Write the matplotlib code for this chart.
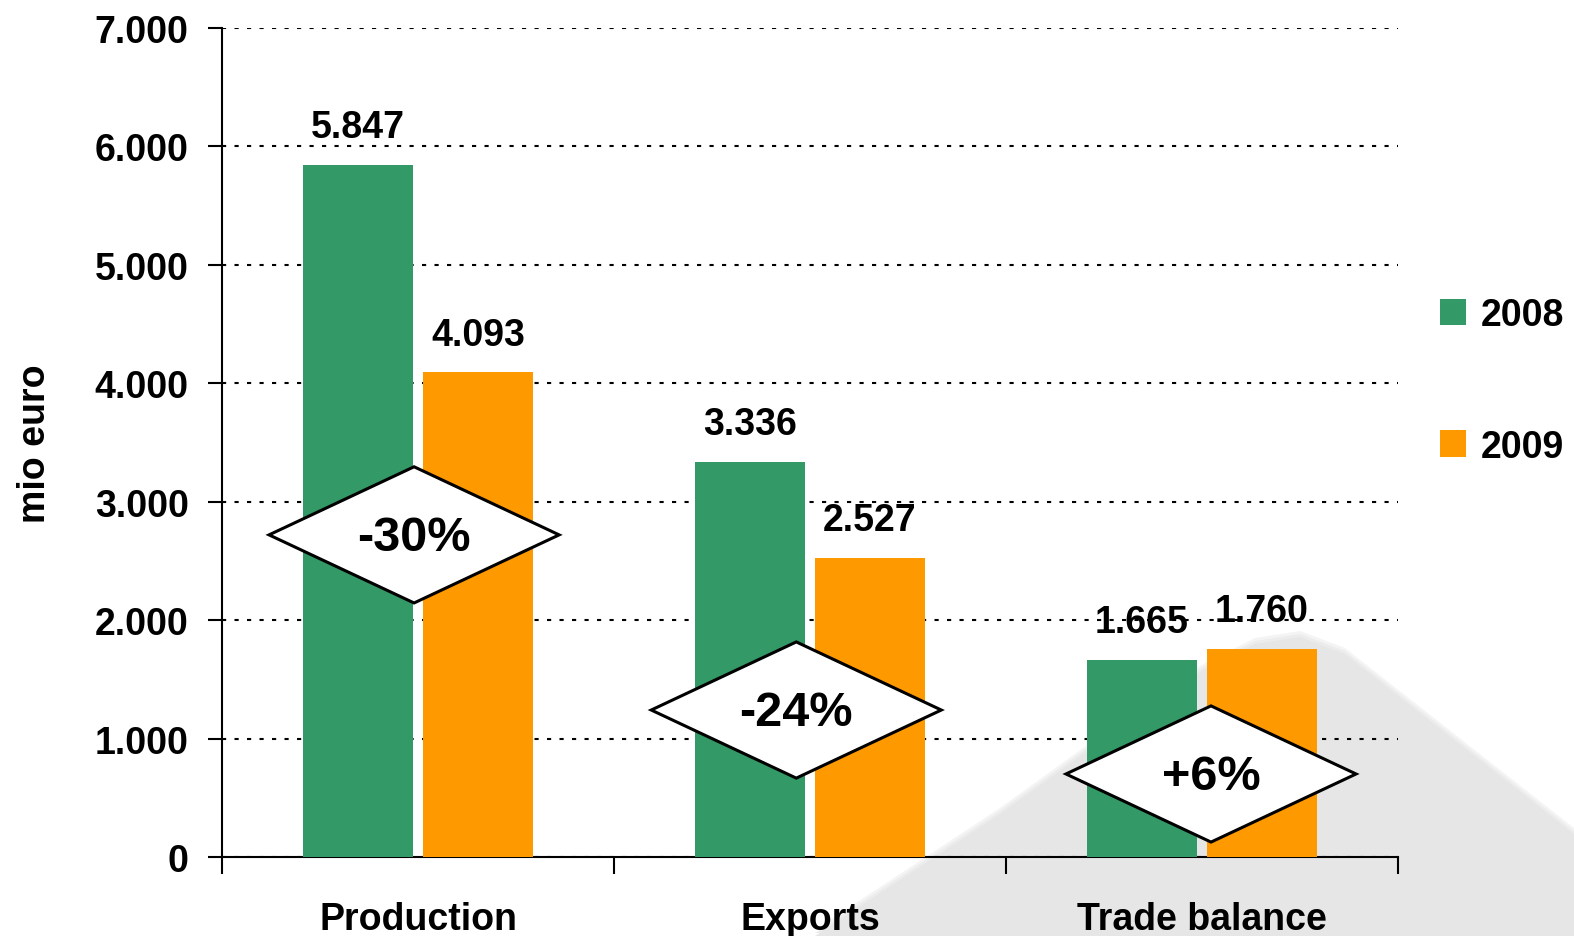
import matplotlib.pyplot as plt
from matplotlib.patches import Polygon
import numpy as np

plt.rcParams['font.family'] = ['Liberation Sans', 'DejaVu Sans']
plt.rcParams['font.weight'] = 'bold'

categories = ['Production', 'Exports', 'Trade balance']
years = ['2008', '2009']
values_2008 = [5847, 3336, 1665]
values_2009 = [4093, 2527, 1760]
changes = ['-30%', '-24%', '+6%']

green = '#339966'
orange = '#ff9900'

fig = plt.figure(figsize=(15.74, 9.37), dpi=100)

# grey decorative shape behind the chart (pixel coords), soft edge
W, H = 1574, 937
pts = [(815, 937), (1000, 815), (1190, 678), (1255, 645), (1300, 638),
       (1345, 655), (1574, 835), (1574, 937)]
for grow, col in [(6, '#f4f4f4'), (3, '#ececec'), (0, '#e6e6e6')]:
    bg = Polygon([(x, H - y + grow) for x, y in pts], closed=True,
                 transform=None, facecolor=col, edgecolor='none', zorder=-2)
    fig.patches.append(bg)

ax = fig.add_axes([222 / W, 1 - 858 / H, (1398 - 222) / W, (858 - 29) / H])
ax.patch.set_alpha(0)

x = np.arange(len(categories))
w = 0.28
off = 0.153
b1 = ax.bar(x - off, values_2008, w, color=green, label=years[0], zorder=3)
b2 = ax.bar(x + off, values_2009, w, color=orange, label=years[1], zorder=3)

for bars in (b1, b2):
    for rect in bars:
        v = rect.get_height()
        ax.annotate(f'{v / 1000:.3f}', (rect.get_x() + rect.get_width() / 2, v),
                    xytext=(0, 14), textcoords='offset points',
                    ha='center', va='bottom', fontsize=27, fontweight='bold',
                    zorder=4)

# diamonds with percentage change
dia_x = [-0.01, 0.965, 2.023]
dia_y = [2720, 1241, 701]
hw, hh = 0.37, 575
for cx, cy, t in zip(dia_x, dia_y, changes):
    d = Polygon([(cx - hw, cy), (cx, cy + hh), (cx + hw, cy), (cx, cy - hh)],
                closed=True, facecolor='white', edgecolor='black', lw=2.2,
                zorder=5)
    ax.add_patch(d)
    ax.text(cx, cy - 20, t, ha='center', va='center', fontsize=35,
            fontweight='bold', zorder=6)

ax.set_xlim(-0.5, 2.5)
ax.set_ylim(0, 7000)
ax.set_yticks(range(0, 7001, 1000))
ax.set_yticklabels([f'{v:,}'.replace(',', '.') for v in range(0, 7001, 1000)],
                   fontsize=27, fontweight='bold')
ax.yaxis.grid(True, color='black', linestyle=(0, (2, 4)), lw=1.5, zorder=1)

ax.set_xticks([-0.5, 0.5, 1.5, 2.5])
ax.set_xticklabels([])
ax.set_xticks(x, minor=True)
ax.set_xticklabels(categories, minor=True, fontsize=27, fontweight='bold')
ax.tick_params(axis='x', which='minor', length=0, pad=32)
ax.tick_params(axis='x', which='major', length=12, width=1.5, direction='out')
ax.tick_params(axis='y', length=10, width=1.5, pad=14)

for s in ('top', 'right'):
    ax.spines[s].set_visible(False)
ax.spines['left'].set_linewidth(1.5)
ax.spines['bottom'].set_linewidth(1.5)

ax.set_ylabel('mio euro', fontsize=27, fontweight='bold', labelpad=30)

leg = fig.legend(handles=[b1, b2], labels=years, loc='upper left',
                 bbox_to_anchor=(1440 / W, 1 - 298 / H), frameon=False,
                 prop={'weight': 'bold', 'size': 27}, borderpad=0,
                 borderaxespad=0,
                 handlelength=0.7, handleheight=0.7, handletextpad=0.4,
                 labelspacing=2.55)

fig.savefig('out.png', dpi=100)
